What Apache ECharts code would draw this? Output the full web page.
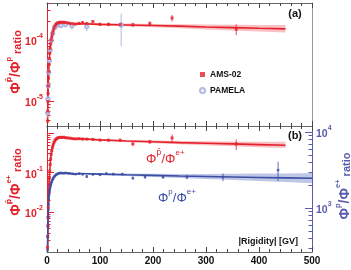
<!DOCTYPE html>
<html><head><meta charset="utf-8">
<script src="https://cdn.jsdelivr.net/npm/echarts@6/dist/echarts.min.js"></script>
<style>html,body{margin:0;padding:0;background:#fff}#c{width:351px;height:270px}</style>
</head><body><div id="c"></div>
<script>
// ---------- DATA ----------
const xTicks = [0, 100, 200, 300, 400, 500];
// AMS-02 rigidity bins (GV)
const rigidityAMS = [1.1,1.4,1.7,2.0,2.4,2.8,3.3,3.9,4.5,5.2,6.0,6.9,7.9,9.0,10.2,11.5,13,14.6,16.3,18.2,20.3,22.7,25.3,28.2,31.5,35.1,39.1,43.6,48.6,54.1,60.3,67.2,75,86.5,100,116,138,162,194,236,357];
// AMS-02 pbar/p
const amsPbarP = [4.8e-6,7e-6,1.0e-5,1.35e-5,1.8e-5,2.4e-5,3.1e-5,4.0e-5,5.0e-5,6.1e-5,7.3e-5,8.6e-5,1.0e-4,1.12e-4,1.26e-4,1.4e-4,1.55e-4,1.68e-4,1.78e-4,1.85e-4,1.9e-4,1.93e-4,1.95e-4,1.93e-4,1.95e-4,1.92e-4,1.9e-4,1.86e-4,1.84e-4,1.82e-4,1.87e-4,1.92e-4,1.85e-4,2.0e-4,1.8e-4,1.8e-4,1.78e-4,1.77e-4,1.85e-4,2.28e-4,1.5e-4];
const amsPbarPErr = [0.4e-6,0.5e-6,0.6e-6,0.7e-6,0.8e-6,1e-6,1.2e-6,1.4e-6,1.6e-6,1.8e-6,2e-6,2.2e-6,2.5e-6,2.7e-6,3e-6,3.2e-6,3.5e-6,3.7e-6,4e-6,4.2e-6,4.5e-6,4.7e-6,5e-6,5.3e-6,5.6e-6,6e-6,6.3e-6,6.7e-6,7e-6,7.5e-6,8e-6,8.5e-6,9e-6,1.0e-5,1.1e-5,1.2e-5,1.3e-5,1.4e-5,1.7e-5,2.8e-5,3.0e-5];
// PAMELA pbar/p
const pamelaR = [1.3,1.8,2.4,3.2,4.3,5.8,7.9,10.7,14.5,19.5,26,35,47,75,140];
const pamelaPbarP = [6.5e-6,1.1e-5,1.8e-5,3.0e-5,4.6e-5,6.8e-5,9.8e-5,1.28e-4,1.6e-4,1.75e-4,1.72e-4,1.78e-4,1.7e-4,1.65e-4,1.75e-4];
const pamelaErr = [1e-6,1.5e-6,2e-6,3e-6,4e-6,5e-6,7e-6,9e-6,1.1e-5,1.3e-5,1.5e-5,1.8e-5,2.2e-5,2.6e-5,9.5e-5];
// fit (pbar/p) and band
const fitR = [60,100,150,200,250,300,350,400,450];
const fitPbarP = [1.85e-4,1.80e-4,1.76e-4,1.72e-4,1.68e-4,1.63e-4,1.59e-4,1.55e-4,1.52e-4];
const bandPbarPHi = [1.90e-4,1.87e-4,1.85e-4,1.83e-4,1.81e-4,1.79e-4,1.78e-4,1.76e-4,1.75e-4];
const bandPbarPLo = [1.80e-4,1.73e-4,1.67e-4,1.61e-4,1.55e-4,1.49e-4,1.43e-4,1.38e-4,1.33e-4];
// AMS-02 pbar/e+
const amsPbarE = [1.3e-3,2.5e-3,4.5e-3,7.5e-3,0.013,0.02,0.032,0.05,0.075,0.11,0.16,0.22,0.29,0.36,0.43,0.5,0.57,0.63,0.68,0.72,0.75,0.77,0.78,0.77,0.78,0.76,0.75,0.74,0.72,0.71,0.72,0.7,0.7,0.69,0.66,0.66,0.66,0.53,0.6,0.75,0.53];
const amsPbarEErr = [2e-4,3e-4,4e-4,5e-4,8e-4,1e-3,1.5e-3,2e-3,3e-3,4e-3,5e-3,6e-3,7e-3,8e-3,9e-3,0.01,0.011,0.012,0.013,0.014,0.015,0.016,0.017,0.018,0.019,0.02,0.021,0.022,0.023,0.024,0.025,0.027,0.03,0.033,0.037,0.042,0.05,0.06,0.07,0.17,0.16];
const fitPbarE = [0.72,0.67,0.63,0.60,0.57,0.55,0.53,0.51,0.49];
const bandPbarEHi = [0.74,0.70,0.67,0.65,0.63,0.62,0.61,0.60,0.60];
const bandPbarELo = [0.70,0.64,0.59,0.55,0.52,0.49,0.46,0.44,0.42];
// AMS-02 p/e+
const rigidityPE = [1.1,1.4,1.7,2.0,2.4,2.8,3.3,3.9,4.5,5.2,6.0,6.9,7.9,9.0,10.2,11.5,13,14.6,16.3,18.2,20.3,22.7,25.3,28.2,31.5,35.1,39.1,43.6,48.6,54.1,60.3,67.2,75,86.5,100,112,125,142,162,185,219,264,332,436];
const amsPE = [280,420,580,760,950,1120,1300,1480,1620,1750,1880,2000,2120,2230,2350,2450,2550,2640,2720,2780,2830,2870,2900,2880,2870,2900,2870,2850,2820,2800,2830,2790,2600,2780,2750,2850,2800,2800,2480,2560,2560,2560,2560,3160];
const amsPEErr = [10,15,20,25,30,35,40,45,50,50,55,55,60,60,60,65,65,70,70,70,75,75,75,80,80,80,85,85,90,90,95,100,110,110,120,60,80,90,110,120,140,170,300,900];
const fitRPE = [60,100,150,200,250,300,350,400,450,500];
const fitPE = [2850,2800,2740,2690,2640,2600,2560,2530,2500,2470];
const bandPEHi = [2900,2870,2840,2820,2810,2810,2820,2840,2860,2890];
const bandPELo = [2800,2730,2640,2560,2480,2410,2340,2270,2200,2130];
// axis ticks
const ticksA = [1e-5,1e-4];
const minorA = [5e-6,6e-6,7e-6,8e-6,9e-6,2e-5,3e-5,4e-5,5e-5,6e-5,7e-5,8e-5,9e-5,2e-4,3e-4,4e-4];
const ticksBL = [1e-2,1e-1,1];
const labelsBL = [1e-2,1e-1];
const minorBL = [2e-3,3e-3,4e-3,5e-3,6e-3,7e-3,8e-3,9e-3,2e-2,3e-2,4e-2,5e-2,6e-2,7e-2,8e-2,9e-2,0.2,0.3,0.4,0.5,0.6,0.7,0.8,0.9];
const ticksBR = [1e3,1e4];
const minorBR = [300,400,500,600,700,800,900,2000,3000,4000,5000,6000,7000,8000,9000];

// ---------- STYLE ----------
const RED='#e5222c', BLUE='#3a4ea4', AXBLUE='#5a5dac', PAM='#a0a6dc';
const FONT='Liberation Sans, Arial, Helvetica, sans-serif';
const chart = echarts.init(document.getElementById('c'), null, {renderer:'canvas'});

function powLabel(color, vals){
  return {show:true, customValues: vals, margin:4,
    formatter: v => '{b|10}{s|' + Math.round(Math.log10(v)) + '}',
    rich:{ b:{fontSize:10.5,fontWeight:'bold',color,fontFamily:FONT,lineHeight:15,verticalAlign:'bottom'},
           s:{fontSize:7,fontWeight:'bold',color,fontFamily:FONT,lineHeight:8,verticalAlign:'top'} } };
}
function xAxis(grid, pos, labels){
  return {type:'value', gridIndex:grid, position:pos, min:0, max:500, interval:100,
    axisLine:{show:true, onZero:false, lineStyle:{color:'#666', width:1}},
    axisTick:{show:true, inside:true, length:5, lineStyle:{color:'#444'}},
    minorTick:{show:true, splitNumber:5, length:3, lineStyle:{color:'#444'}},
    splitLine:{show:false},
    axisLabel: labels ? {show:true, fontSize:10, fontWeight:'bold', color:'#111', fontFamily:FONT, margin:4} : {show:false}};
}
function yAxis(grid, pos, min, max, color, ticks, len, label, line){
  return {type:'log', logBase:10, gridIndex:grid, position:pos, min, max,
    axisLine:{show:line, lineStyle:{color, width:1}},
    axisTick:{show:!!ticks, inside:true, length:len, customValues:ticks||undefined, lineStyle:{color}},
    minorTick:{show:false}, splitLine:{show:false},
    axisLabel: label || {show:false}};
}
function errSeries(xs, ys, es, xi, yi, color){
  return {type:'custom', xAxisIndex:xi, yAxisIndex:yi, silent:true, z:3,
    encode:{x:0, y:[1,2]},
    data: xs.map((x,i)=>[x, ys[i]-es[i], ys[i]+es[i]]),
    renderItem:(p,api)=>{
      const a=api.coord([api.value(0),api.value(1)]), b=api.coord([api.value(0),api.value(2)]);
      return {type:'line', shape:{x1:a[0],y1:a[1],x2:b[0],y2:b[1]}, style:{stroke:color,lineWidth:0.8}};
    }};
}
function bandSeries(xs, lo, hi, xi, yi, color){
  return {type:'custom', xAxisIndex:xi, yAxisIndex:yi, silent:true, z:1,
    encode:{x:0, y:[1,2]},
    data: xs.map((x,i)=>[x, lo[i], hi[i]]),
    renderItem:(p,api)=>{
      if(p.dataIndex!==0) return {type:'group', children:[]};
      const pts=[];
      xs.forEach((x,i)=>pts.push(api.coord([x,hi[i]])));
      for(let i=xs.length-1;i>=0;i--) pts.push(api.coord([xs[i],lo[i]]));
      return {type:'polygon', shape:{points:pts}, style:{fill:color}};
    }};
}
const pairs = (xs, ys) => xs.map((x,i)=>[x, ys[i]]);
const lowThenFit = (xs, ys, fx, fy) => pairs(xs, ys).filter(d=>d[0]<fx[0]).concat(pairs(fx, fy));

function rt(color, big, small, word, bold){
  const fw = bold ? 'bold' : 'normal';
  return { b:{fontSize:big,fontWeight:fw,fill:color,fontFamily:FONT,lineHeight:big+4,verticalAlign:'bottom'},
           s:{fontSize:small,fontWeight:fw,fill:color,fontFamily:FONT,lineHeight:small+1,verticalAlign:'top'},
           q:{fontSize:small,fontWeight:fw,fill:color,fontFamily:'DejaVu Sans',lineHeight:small+1,verticalAlign:'top'},
           w:{fontSize:word,fontWeight:fw,fill:color,fontFamily:FONT,lineHeight:big+4,verticalAlign:'bottom'} };
}

const option = {
  backgroundColor:'#fff', animation:false,
  grid:[{left:47, top:3, width:265, height:123}, {left:47, top:126, width:265, height:126}],
  xAxis:[xAxis(0,'bottom',false), xAxis(0,'top',false), xAxis(1,'bottom',true), xAxis(1,'top',false)],
  yAxis:[
    yAxis(0,'left',4e-6,4e-4,RED,ticksA,7,powLabel(RED,ticksA),true),
    yAxis(0,'left',4e-6,4e-4,RED,minorA,3.5,null,false),
    yAxis(0,'right',4e-6,4e-4,'#999',null,0,null,true),
    yAxis(1,'left',1e-3,1.5,RED,ticksBL,7,powLabel(RED,labelsBL),true),
    yAxis(1,'left',1e-3,1.5,RED,minorBL,3.5,null,false),
    yAxis(1,'right',265,12000,AXBLUE,ticksBR,7,powLabel(AXBLUE,ticksBR),true),
    yAxis(1,'right',265,12000,AXBLUE,minorBR,3.5,null,false)
  ],
  legend:{data:['AMS-02','PAMELA'], orient:'vertical', left:194, top:65, itemWidth:5, itemHeight:5, itemGap:7,
    selectedMode:false, textStyle:{fontSize:8.5, fontWeight:'bold', fontFamily:FONT, color:'#111'}},
  series:[
    bandSeries(fitR, bandPbarPLo, bandPbarPHi, 0, 0, 'rgba(240,90,100,0.38)'),
    {type:'line', name:'fitA', xAxisIndex:0, yAxisIndex:0, showSymbol:false, symbol:'none', silent:true, z:2,
     data: lowThenFit(rigidityAMS, amsPbarP, fitR, fitPbarP), lineStyle:{color:RED, width:1.6}},
    errSeries(pamelaR, pamelaPbarP, pamelaErr, 0, 0, PAM),
    {type:'scatter', name:'PAMELA', xAxisIndex:0, yAxisIndex:0, symbol:'emptyCircle', symbolSize:3.5, z:4,
     itemStyle:{color:PAM, borderColor:PAM, borderWidth:0.8}, data: pairs(pamelaR, pamelaPbarP)},
    errSeries(rigidityAMS, amsPbarP, amsPbarPErr, 0, 0, RED),
    {type:'scatter', name:'AMS-02', xAxisIndex:0, yAxisIndex:0, symbol:'rect', symbolSize:3, z:5,
     itemStyle:{color:RED}, data: pairs(rigidityAMS, amsPbarP)},

    bandSeries(fitR, bandPbarELo, bandPbarEHi, 2, 3, 'rgba(240,90,100,0.38)'),
    {type:'line', name:'fitB', xAxisIndex:2, yAxisIndex:3, showSymbol:false, symbol:'none', silent:true, z:2,
     data: lowThenFit(rigidityAMS, amsPbarE, fitR, fitPbarE), lineStyle:{color:RED, width:1.6}},
    errSeries(rigidityAMS, amsPbarE, amsPbarEErr, 2, 3, RED),
    {type:'scatter', name:'pbarE', xAxisIndex:2, yAxisIndex:3, symbol:'rect', symbolSize:3, z:5,
     itemStyle:{color:RED}, data: pairs(rigidityAMS, amsPbarE)},

    bandSeries(fitRPE, bandPELo, bandPEHi, 2, 5, 'rgba(90,105,190,0.38)'),
    {type:'line', name:'fitP', xAxisIndex:2, yAxisIndex:5, showSymbol:false, symbol:'none', silent:true, z:2,
     data: lowThenFit(rigidityPE, amsPE, fitRPE, fitPE), lineStyle:{color:BLUE, width:1.6}},
    errSeries(rigidityPE, amsPE, amsPEErr, 2, 5, BLUE),
    {type:'scatter', name:'pE', xAxisIndex:2, yAxisIndex:5, symbol:'rect', symbolSize:2.5, z:5,
     itemStyle:{color:BLUE}, data: pairs(rigidityPE, amsPE)}
  ],
  graphic:[
    {type:'text', x:295, y:14, style:{text:'(a)', font:'bold 11px '+FONT, fill:'#111', align:'center', verticalAlign:'middle'}},
    {type:'text', x:295, y:136, style:{text:'(b)', font:'bold 11px '+FONT, fill:'#111', align:'center', verticalAlign:'middle'}},
    {type:'text', x:298, y:242, style:{text:'|Rigidity| [GV]', font:'bold 9px '+FONT, fill:'#111', align:'right', verticalAlign:'middle'}},
    {type:'text', x:14, y:62, rotation:Math.PI/2, style:{text:'{b|Φ}{q|p\u0304}{b|/Φ}{s|p}{w| ratio}', rich:rt(RED,14,7.5,11,true), align:'center', verticalAlign:'middle'}},
    {type:'text', x:14, y:182, rotation:Math.PI/2, style:{text:'{b|Φ}{q|p\u0304}{b|/Φ}{s|e+}{w| ratio}', rich:rt(RED,14,7.5,11,true), align:'center', verticalAlign:'middle'}},
    {type:'text', x:343, y:186, rotation:Math.PI/2, style:{text:'{b|Φ}{s|p}{b|/Φ}{s|e+}{w| ratio}', rich:rt(AXBLUE,14,7.5,11,true), align:'center', verticalAlign:'middle'}},
    {type:'text', x:146, y:157, style:{text:'{b|Φ}{q|p\u0304}{b|/Φ}{s|e+}', rich:rt(RED,13,8,13,false), align:'left', verticalAlign:'middle'}},
    {type:'text', x:158, y:196, style:{text:'{b|Φ}{s|p}{b|/Φ}{s|e+}', rich:rt(BLUE,13,8,13,false), align:'left', verticalAlign:'middle'}}
  ]
};
chart.setOption(option);
</script></body></html>
